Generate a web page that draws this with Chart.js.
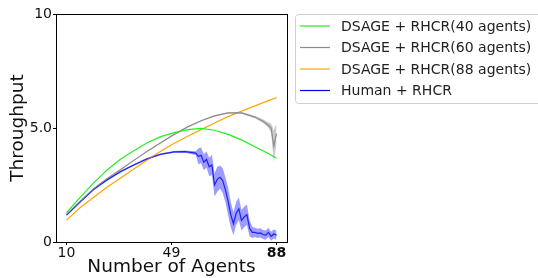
<!DOCTYPE html>
<html>
<head>
<meta charset="utf-8">
<script src="https://cdn.jsdelivr.net/npm/chart.js@4.4.1/dist/chart.umd.min.js"></script>
<style>
  html, body { margin: 0; padding: 0; background: #fff; }
  #wrap { width: 538px; height: 278px; }
</style>
</head>
<body>
<div id="wrap"><canvas id="chart" width="538" height="278"></canvas></div>
<script>
// x positions (number of agents) for the smooth DSAGE curves
const smoothAgents = [10, 15, 20, 25, 30, 35, 40, 45, 50, 55, 60, 65, 70, 75, 80, 85, 88];
const dsage40 = [1.29, 1.95, 2.58, 3.15, 3.63, 4.0, 4.35, 4.62, 4.8, 4.93, 4.98, 4.9, 4.72, 4.48, 4.18, 3.88, 3.67];
const dsage88 = [0.96, 1.5, 1.95, 2.4, 2.8, 3.2, 3.6, 3.98, 4.33, 4.64, 4.93, 5.22, 5.5, 5.74, 5.97, 6.2, 6.33];

// the 60-agent curve gets noisy at the very end
const grayAgents = [10, 15, 20, 25, 30, 35, 40, 45, 50, 55, 60, 65, 70, 75, 80, 83, 85, 86, 87, 88];
const dsage60 = [1.21, 1.78, 2.33, 2.78, 3.17, 3.58, 3.98, 4.35, 4.72, 5.05, 5.32, 5.53, 5.66, 5.66, 5.48, 5.3, 5.12, 5.0, 4.2, 4.75];
const dsage60Spread = [0.02, 0.02, 0.02, 0.02, 0.02, 0.02, 0.02, 0.02, 0.02, 0.02, 0.02, 0.03, 0.03, 0.04, 0.05, 0.08, 0.12, 0.2, 0.7, 0.45];

// human designed map
const humanAgents = [10, 15, 20, 25, 30, 35, 40, 45, 50, 54, 58,
  59, 60, 61, 62, 63, 64, 65, 66, 67, 68, 69, 70, 71, 72, 73, 74, 75, 76, 77, 78,
  79, 80, 81, 82, 83, 84, 85, 86, 87, 88];
const human = [1.18, 1.75, 2.3, 2.72, 3.08, 3.38, 3.65, 3.85, 3.95, 3.96, 3.9,
  3.76, 3.8, 3.5, 3.62, 3.3, 3.38, 2.5, 2.75, 2.84, 2.7, 2.3, 1.8, 1.2, 0.8, 1.25, 1.45, 0.95, 1.1, 1.2, 0.6,
  0.42, 0.42, 0.38, 0.4, 0.33, 0.3, 0.42, 0.25, 0.35, 0.3];
const humanSpread = [0.04, 0.04, 0.04, 0.04, 0.04, 0.04, 0.04, 0.04, 0.04, 0.05, 0.08,
  0.35, 0.35, 0.35, 0.35, 0.4, 0.45, 0.5, 0.55, 0.5, 0.55, 0.55, 0.6, 0.55, 0.5, 0.5, 0.5, 0.45, 0.45, 0.45, 0.35,
  0.25, 0.2, 0.2, 0.2, 0.2, 0.2, 0.2, 0.2, 0.2, 0.2];

const xTicks = [10, 49, 88];
const yTicks = [0, 5, 10];
const yTickLabels = ['0', '5.0', '10'];

const FONT = "'DejaVu Sans', sans-serif";

const pts = (xs, ys) => xs.map((x, i) => ({ x: x, y: ys[i] }));
const band = (xs, ys, sp, sign) => xs.map((x, i) => ({ x: x, y: ys[i] + sign * sp[i] }));

const series = [
  { label: 'DSAGE + RHCR(40 agents)', color: '#22ee22' },
  { label: 'DSAGE + RHCR(60 agents)', color: '#8c8c8c' },
  { label: 'DSAGE + RHCR(88 agents)', color: '#ffa500' },
  { label: 'Human + RHCR', color: '#0000ee' }
];

const line = (s, data) => ({
  label: s.label, data: data, borderColor: s.color, borderWidth: 1.2,
  pointRadius: 0, fill: false, tension: 0
});
const bandSet = (data, color, fill) => ({
  label: '', data: data, borderWidth: 0, pointRadius: 0,
  backgroundColor: color, fill: fill, tension: 0
});

// frame on all four sides plus the legend box in the upper right
const framePlugin = {
  id: 'frame',
  afterDraw(chart) {
    const { ctx, chartArea: a } = chart;
    ctx.save();
    ctx.strokeStyle = '#000';
    ctx.lineWidth = 1;
    ctx.strokeRect(Math.round(a.left) + 0.5, Math.round(a.top) + 0.5,
      Math.round(a.right - a.left), Math.round(a.bottom - a.top));

    // legend
    const bx = 295.5, by = 14.5, bw = 260, bh = 89, r = 3;
    ctx.beginPath();
    ctx.roundRect(bx, by, bw, bh, r);
    ctx.fillStyle = 'rgba(255,255,255,0.8)';
    ctx.fill();
    ctx.strokeStyle = '#d0d0d0';
    ctx.stroke();
    ctx.font = '14px ' + FONT;
    ctx.textBaseline = 'middle';
    series.forEach((s, i) => {
      const y = 26 + i * 21.5;
      ctx.beginPath();
      ctx.moveTo(300, y);
      ctx.lineTo(330, y);
      ctx.strokeStyle = s.color;
      ctx.lineWidth = 1.2;
      ctx.stroke();
      ctx.fillStyle = '#222';
      ctx.fillText(s.label, 341, y + 1);
    });
    ctx.restore();
  }
};

new Chart(document.getElementById('chart'), {
  type: 'line',
  data: {
    datasets: [
      bandSet(band(grayAgents, dsage60, dsage60Spread, 1), 'rgba(140,140,140,0.45)', '+1'),
      bandSet(band(grayAgents, dsage60, dsage60Spread, -1), 'rgba(0,0,0,0)', false),
      bandSet(band(humanAgents, human, humanSpread, 1), 'rgba(60,60,255,0.5)', '+1'),
      bandSet(band(humanAgents, human, humanSpread, -1), 'rgba(0,0,0,0)', false),
      line(series[0], pts(smoothAgents, dsage40)),
      line(series[1], pts(grayAgents, dsage60)),
      line(series[2], pts(smoothAgents, dsage88)),
      line(series[3], pts(humanAgents, human))
    ]
  },
  options: {
    responsive: false,
    animation: false,
    events: [],
    layout: { padding: { left: 0, top: 14, right: 251, bottom: 0 } },
    plugins: {
      legend: { display: false },
      tooltip: { enabled: false }
    },
    scales: {
      x: {
        type: 'linear',
        min: 6.1,
        max: 91.9,
        afterBuildTicks: s => { s.ticks = xTicks.map(v => ({ value: v })); },
        afterFit: s => { s.height = 36; },
        grid: { drawOnChartArea: false, drawTicks: true, tickLength: 3, tickColor: '#000' },
        border: { color: '#000', width: 1 },
        ticks: {
          padding: 0,
          maxRotation: 0,
          color: '#111',
          font: ctx => ({ family: FONT, size: 14, weight: ctx.tick && ctx.tick.value === 88 ? 'bold' : 'normal' })
        },
        title: {
          display: true, text: 'Number of Agents', color: '#111',
          font: { family: FONT, size: 18.5 }, padding: { top: 0, bottom: 0 }
        }
      },
      y: {
        min: 0,
        max: 10,
        afterBuildTicks: s => { s.ticks = yTicks.map(v => ({ value: v })); },
        afterFit: s => { s.width = 56; },
        grid: { drawOnChartArea: false, drawTicks: true, tickLength: 3, tickColor: '#000' },
        border: { color: '#000', width: 1 },
        ticks: {
          padding: 1,
          color: '#111',
          font: { family: FONT, size: 14 },
          callback: (v) => yTickLabels[yTicks.indexOf(v)]
        },
        title: {
          display: true, text: 'Throughput', color: '#111',
          font: { family: FONT, size: 18.5 }, padding: { top: 7, bottom: 0 }
        }
      }
    }
  },
  plugins: [framePlugin]
});
</script>
</body>
</html>
